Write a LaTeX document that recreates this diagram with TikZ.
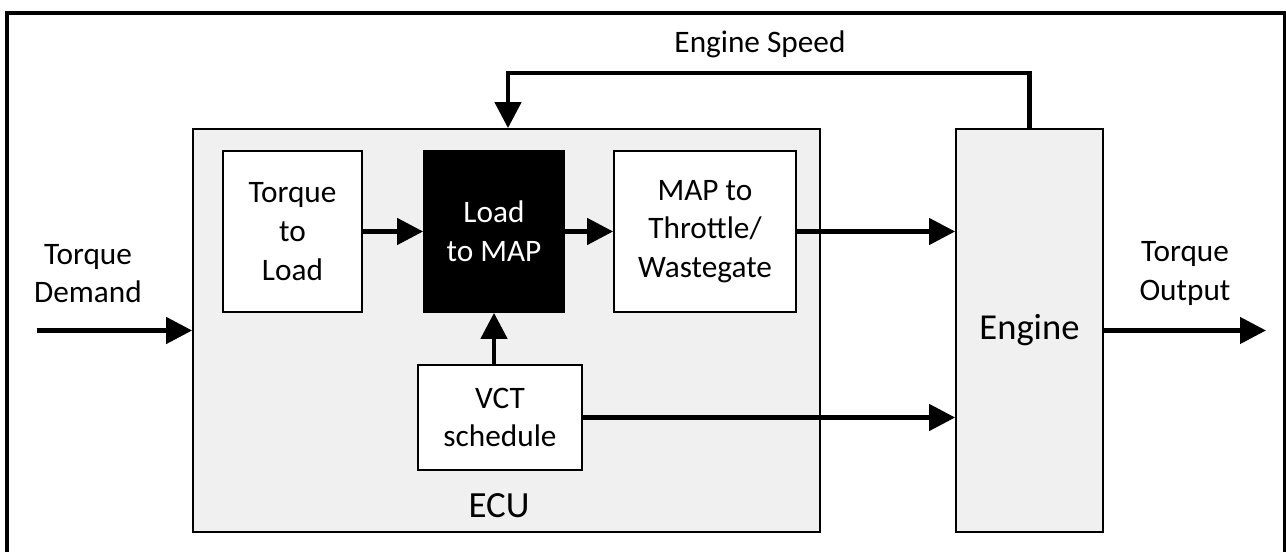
\documentclass[tikz,border=0pt]{standalone}
\usepackage{fontspec}
\setmainfont{Carlito}
\usetikzlibrary{arrows.meta}
\definecolor{ecugray}{HTML}{F0F0F0}
\begin{document}
\begin{tikzpicture}[
  block/.style={draw, line width=1pt, fill=white, align=center, inner sep=0pt, font=\fontsize{17.8}{22}\selectfont},
  sig/.style={line width=2.6pt, -{Triangle[length=0.52cm, width=0.52cm]}},
  lbl/.style={align=center, font=\fontsize{17.8}{22}\selectfont}
]
\useasboundingbox (0, 0) rectangle (25.72, 11.04);
\draw[line width=2.3pt] (0.14, -0.6) rectangle (25.70, 10.78);
\node (ecu)[draw, line width=1pt, fill=ecugray, minimum width=12.54cm, minimum height=8.06cm] at (10.13, 4.43) {};
\node (engine)[draw, line width=1pt, fill=ecugray, minimum width=2.94cm, minimum height=8.06cm, font=\fontsize{20.8}{25}\selectfont] at (20.59, 4.43) {Engine};
\node (t2l)[block, minimum width=2.78cm, minimum height=3.22cm] at (5.85, 6.41) {Torque\\to\\Load};
\node (l2m)[block, fill=black, text=white, minimum width=2.80cm, minimum height=3.22cm] at (9.88, 6.41) {Load\\to MAP};
\node (map)[block, minimum width=3.64cm, minimum height=3.22cm] at (14.10, 6.41) {MAP to\\Throttle/\\Wastegate};
\node (vct)[block, minimum width=3.28cm, minimum height=2.10cm] at (10.00, 2.69) {VCT\\schedule};
\node (eculabel)[lbl, font=\fontsize{21}{25}\selectfont] at (9.98, 0.92) {ECU};
\node (tdlabel)[lbl] at (1.76, 5.57) {Torque\\Demand};
\node (tolabel)[lbl] at (23.70, 5.57) {Torque\\Output};
\node (eslabel)[lbl, anchor=base] at (15.20, 9.98) {Engine Speed};
\coordinate (tdin) at (0.74, 4.43);
\coordinate (tout) at (25.32, 4.43);
\coordinate (fb) at (10.16, 9.58);
\draw[sig] (tdin) -- (ecu.west);
\draw[sig] (t2l) -- (l2m);
\draw[sig] (l2m) -- (map);
\draw[sig] (map.east) -- (map.east -| engine.west);
\draw[sig] (vct.north -| l2m.south) -- (l2m.south);
\draw[sig] (vct.east) -- (vct.east -| engine.west);
\draw[sig] (engine.east) -- (tout);
\draw[sig] (engine.north) |- (fb) -- (fb |- ecu.north);
\end{tikzpicture}
\end{document}
